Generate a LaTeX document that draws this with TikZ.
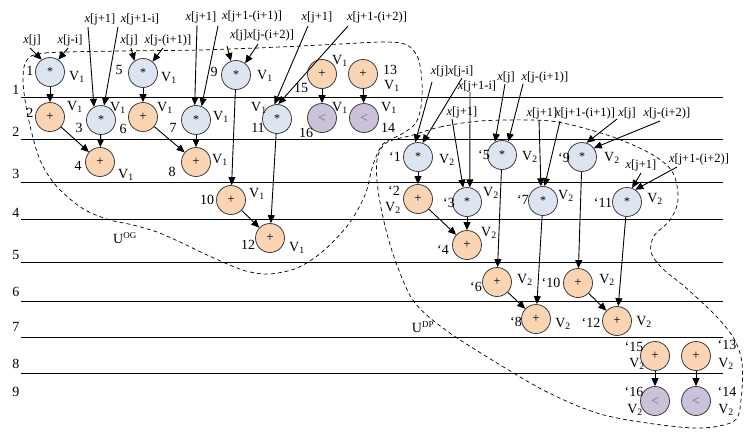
\documentclass[tikz,border=0pt]{standalone}
\usepackage{fontspec}
\setmainfont{Liberation Serif}
\usetikzlibrary{arrows.meta}

\definecolor{opmul}{RGB}{220,229,241}
\definecolor{opadd}{RGB}{251,212,180}
\definecolor{opcmp}{RGB}{204,193,218}
\definecolor{opline}{RGB}{60,60,60}
\definecolor{cmpsym}{RGB}{110,110,110}

\newcommand{\xin}{\textit{x}}
\newcommand{\Vone}{V\textsubscript{1}}
\newcommand{\Vtwo}{V\textsubscript{2}}
\newcommand{\mulsym}{\raisebox{-0.4ex}{*}}

\tikzset{
  op/.style={circle, draw=opline, line width=0.8pt, minimum size=29pt, inner sep=0pt},
  mulop/.style={op, fill=opmul, font=\fontsize{12}{12}\selectfont},
  addop/.style={op, fill=opadd, font=\fontsize{13}{13}\selectfont},
  cmpop/.style={op, fill=opcmp, text=cmpsym, font=\fontsize{14}{14}\selectfont},
  tag/.style={font=\fontsize{14}{16}\selectfont, inner sep=0pt},
  inp/.style={font=\fontsize{12.5}{14}\selectfont, inner sep=0pt},
  arr/.style={-{Triangle[length=8pt,width=7pt]}, line width=0.9pt},
  lane/.style={line width=0.8pt},
  region/.style={dash pattern=on 4pt off 3pt, line width=0.7pt}
}

\begin{document}
\begin{tikzpicture}[x=1pt,y=-1pt]
\useasboundingbox (0,0) rectangle (753,437);

% control-step lanes
\foreach \yy in {97,139,182,219,262,301,337,373}
  \draw[lane] (21,\yy) -- (723,\yy);
\foreach \lab/\yy in {1/90,2/132,3/174,4/213,5/255,6/292,7/327,8/364,9/392}
  \node[tag] (row\lab) at (16,\yy) {\lab};

% region boundaries
\draw[region] plot[smooth cycle, tension=0.55] coordinates {
  (27,60) (45,53) (120,51) (200,50) (280,47) (340,44) (385,42) (407,45)
  (418,58) (422,82) (421,107) (415,124) (400,135) (383,144) (373,165)
  (365,195) (348,225) (322,252) (297,268) (270,274) (250,272) (232,266)
  (205,254) (180,242) (157,232) (133,225) (110,220) (87,211) (70,199)
  (53,182) (40,160) (31,130) (25,100) (23,77)};
\draw[region] plot[smooth cycle, tension=0.55] coordinates {
  (413,135) (440,127) (480,121) (530,120) (563,123) (613,137) (653,155)
  (673,173) (678,200) (670,220) (654,236) (651,252) (662,268) (685,287)
  (713,313) (733,337) (742,363) (741,400) (734,421) (700,428) (647,423)
  (597,413) (547,392) (497,363) (447,331) (415,303) (398,268) (386,230)
  (378,190) (377,160) (386,143)};
\node[tag] (uog) at (125,238) {U\textsuperscript{\fontsize{9}{9}\selectfont OG}};
\node[tag] (udp) at (423,327) {U\textsuperscript{\fontsize{9}{9}\selectfont DP}};

% ---------- first iteration (V1) ----------
\node[mulop] (n1)  at (50,72)   {\mulsym};
\node[addop] (n2)  at (50,117)  {+};
\node[mulop] (n3)  at (101,120) {\mulsym};
\node[addop] (n4)  at (100,162) {+};
\node[mulop] (n5)  at (143,73)  {\mulsym};
\node[addop] (n6)  at (143,117) {+};
\node[mulop] (n7)  at (196,120) {\mulsym};
\node[addop] (n8)  at (196,162) {+};
\node[mulop] (n9)  at (236,75)  {\mulsym};
\node[addop] (n10) at (231,200) {+};
\node[mulop] (n11) at (277,119) {\mulsym};
\node[addop] (n12) at (270,238) {+};
\node[addop] (n15) at (322,74)  {+};
\node[cmpop] (n16) at (322,118) {<};
\node[addop] (n13) at (363,74)  {+};
\node[cmpop] (n14) at (364,118) {<};

\node[tag] (t1)  at (30,71)   {1};   \node[tag] (v1)  at (77,77)   {\Vone};
\node[tag] (t2)  at (30,113)  {2};   \node[tag] (v2)  at (75,107)  {\Vone};
\node[tag] (t3)  at (79,128)  {3};   \node[tag] (v3)  at (118,108) {\Vone};
\node[tag] (t4)  at (78,166)  {4};   \node[tag] (v4)  at (126,175) {\Vone};
\node[tag] (t5)  at (119,70)  {5};   \node[tag] (v5)  at (169,78)  {\Vone};
\node[tag] (t6)  at (123,129) {6};   \node[tag] (v6)  at (165,108) {\Vone};
\node[tag] (t7)  at (173,128) {7};   \node[tag] (v7)  at (221,117) {\Vone};
\node[tag] (t8)  at (172,172) {8};   \node[tag] (v8)  at (220,160) {\Vone};
\node[tag] (t9)  at (214,72)  {9};   \node[tag] (v9)  at (265,76)  {\Vone};
\node[tag] (t10) at (207,200) {10};  \node[tag] (v10) at (257,194) {\Vone};
\node[tag] (t11) at (258,128) {11};  \node[tag] (v11) at (259,108) {\Vone};
\node[tag] (t12) at (248,245) {12};  \node[tag] (v12) at (297,248) {\Vone};
\node[tag] (t15) at (301,88)  {15};  \node[tag] (v15) at (340,61)  {\Vone};
\node[tag] (t16) at (306,133) {16};  \node[tag] (v16) at (340,108) {\Vone};
\node[tag] (t13) at (390,70)  {13};  \node[tag] (v13) at (392,86)  {\Vone};
\node[tag] (t14) at (388,128) {14};  \node[tag] (v14) at (389,108) {\Vone};

\node[inp] (a1)  at (32,40)  {\xin[j]};
\node[inp] (a2)  at (70,40)  {\xin[j-i]};
\node[inp] (a3)  at (100,19) {\xin[j+1]};
\node[inp] (a4)  at (140,19) {\xin[j+1-i]};
\node[inp] (a5)  at (129,40) {\xin[j]};
\node[inp] (a6)  at (168,40) {\xin[j-(i+1)]};
\node[inp] (a7)  at (201,17) {\xin[j+1]};
\node[inp] (a8)  at (252,16) {\xin[j+1-(i+1)]};
\node[inp] (a9)  at (262,35) {\xin[j]\xin[j-(i+2)]};
\node[inp] (a10) at (317,17) {\xin[j+1]};
\node[inp] (a11) at (377,17) {\xin[j+1-(i+2)]};

\draw[arr] ([shift={(-2,8)}]a1.center)   -- (n1.124);
\draw[arr] ([shift={(-2,8)}]a2.center)   -- (n1.56);
\draw[arr] ([shift={(-12,8)}]a3.center)  -- (n3.118);
\draw[arr] ([shift={(-22,8)}]a4.center)  -- (n3.78);
\draw[arr] ([shift={(2,8)}]a5.center)    -- (n5.125);
\draw[arr] ([shift={(-5,8)}]a6.center)   -- (n5.50);
\draw[arr] ([shift={(-4,8)}]a7.center)   -- (n7.95);
\draw[arr] ([shift={(-34,10)}]a8.center) -- (n7.68);
\draw[arr] ([shift={(-35,11)}]a9.center) -- (n9.110);
\draw[arr] ([shift={(-4,9)}]a9.center)   -- (n9.52);
\draw[arr] ([shift={(-9,9)}]a10.center)  -- (n11.100);
\draw[arr] ([shift={(-29,9)}]a11.center) -- (n11.85);

\draw[arr] (n1) -- (n2);
\draw[arr] (n2) -- (n4);
\draw[arr] (n3) -- (n4);
\draw[arr] (n5) -- (n6);
\draw[arr] (n6) -- (n8);
\draw[arr] (n7) -- (n8);
\draw[arr] (n9) -- (n10);
\draw[arr] (n10) -- (n12);
\draw[arr] (n11) -- (n12);
\draw[arr] (n15) -- (n16);
\draw[arr] (n13) -- (n14);

% ---------- second iteration (V2) ----------
\node[mulop] (m1)  at (418,157) {\mulsym};
\node[addop] (m2)  at (418,199) {+};
\node[mulop] (m3)  at (467,202) {\mulsym};
\node[addop] (m4)  at (467,245) {+};
\node[mulop] (m5)  at (502,155) {\mulsym};
\node[addop] (m6)  at (497,282) {+};
\node[mulop] (m7)  at (543,201) {\mulsym};
\node[addop] (m8)  at (536,319) {+};
\node[mulop] (m9)  at (582,157) {\mulsym};
\node[addop] (m10) at (578,283) {+};
\node[mulop] (m11) at (627,202) {\mulsym};
\node[addop] (m12) at (617,321) {+};
\node[addop] (m15) at (655,356) {+};
\node[addop] (m13) at (696,356) {+};
\node[cmpop] (m16) at (655,401) {<};
\node[cmpop] (m14) at (696,401) {<};

\node[tag] (s1)  at (395,157) {`1};   \node[tag] (w1)  at (447,160) {\Vtwo};
\node[tag] (s2)  at (394,191) {`2};   \node[tag] (w2)  at (393,208) {\Vtwo};
\node[tag] (s3)  at (449,203) {`3};   \node[tag] (w3)  at (491,193) {\Vtwo};
\node[tag] (s4)  at (443,250) {`4};   \node[tag] (w4)  at (489,233) {\Vtwo};
\node[tag] (s5)  at (484,155) {`5};   \node[tag] (w5)  at (530,157) {\Vtwo};
\node[tag] (s6)  at (476,287) {`6};   \node[tag] (w6)  at (525,280) {\Vtwo};
\node[tag] (s7)  at (523,200) {`7};   \node[tag] (w7)  at (566,196) {\Vtwo};
\node[tag] (s8)  at (516,322) {`8};   \node[tag] (w8)  at (563,324) {\Vtwo};
\node[tag] (s9)  at (564,158) {`9};   \node[tag] (w9)  at (612,158) {\Vtwo};
\node[tag] (s10) at (551,283) {`10};  \node[tag] (w10) at (607,280) {\Vtwo};
\node[tag] (s11) at (603,203) {`11};  \node[tag] (w11) at (655,199) {\Vtwo};
\node[tag] (s12) at (591,323) {`12};  \node[tag] (w12) at (644,322) {\Vtwo};
\node[tag] (s15) at (634,347) {`15};  \node[tag] (w15) at (637,364) {\Vtwo};
\node[tag] (s13) at (727,345) {`13};  \node[tag] (w13) at (726,364) {\Vtwo};
\node[tag] (s16) at (634,392) {`16};  \node[tag] (w16) at (635,410) {\Vtwo};
\node[tag] (s14) at (727,392) {`14};  \node[tag] (w14) at (726,410) {\Vtwo};

\node[inp] (b1)  at (452,71)  {\xin[j]\xin[j-i]};
\node[inp] (b2)  at (477,86)  {\xin[j+1-i]};
\node[inp] (b3)  at (462,112) {\xin[j+1]};
\node[inp] (b4)  at (506,77)  {\xin[j]};
\node[inp] (b5)  at (545,77)  {\xin[j-(i+1)]};
\node[inp] (b6)  at (542,113) {\xin[j+1]};
\node[inp] (b7)  at (585,113) {\xin[j+1-(i+1)]};
\node[inp] (b8)  at (627,113) {\xin[j]};
\node[inp] (b9)  at (667,113) {\xin[j-(i+2)]};
\node[inp] (b10) at (641,165) {\xin[j+1]};
\node[inp] (b11) at (699,159) {\xin[j+1-(i+2)]};

\draw[arr] ([shift={(-20,11)}]b1.center)  -- (m1.101);
\draw[arr] ([shift={(10,7)}]b1.center)    -- (m1.72);
\draw[arr] ([shift={(-7,6)}]b2.center)    -- (m3.79);
\draw[arr] ([shift={(-10,7)}]b3.center)   -- (m3.105);
\draw[arr] ([shift={(-1,7)}]b4.center)    -- (m5.118);
\draw[arr] ([shift={(-22,7)}]b5.center)   -- (m5.65);
\draw[arr] ([shift={(-3,7)}]b6.center)    -- (m7.98);
\draw[arr] ([shift={(-25,8)}]b7.center)   -- (m7.84);
\draw[arr] ([shift={(-10,6)}]b8.center)   -- (m9.72);
\draw[arr] ([shift={(-7,8)}]b9.center)    -- (m9.37);
\draw[arr] ([shift={(0,8)}]b10.center)    -- (m11.70);
\draw[arr] ([shift={(-22,8)}]b11.center)  -- (m11.56);

\draw[arr] (m1) -- (m2);
\draw[arr] (m2) -- (m4);
\draw[arr] (m3) -- (m4);
\draw[arr] (m5) -- (m6);
\draw[arr] (m6) -- (m8);
\draw[arr] (m7) -- (m8);
\draw[arr] (m9) -- (m10);
\draw[arr] (m10) -- (m12);
\draw[arr] (m11) -- (m12);
\draw[arr] (m15) -- (m16);
\draw[arr] (m13) -- (m14);
\end{tikzpicture}
\end{document}
